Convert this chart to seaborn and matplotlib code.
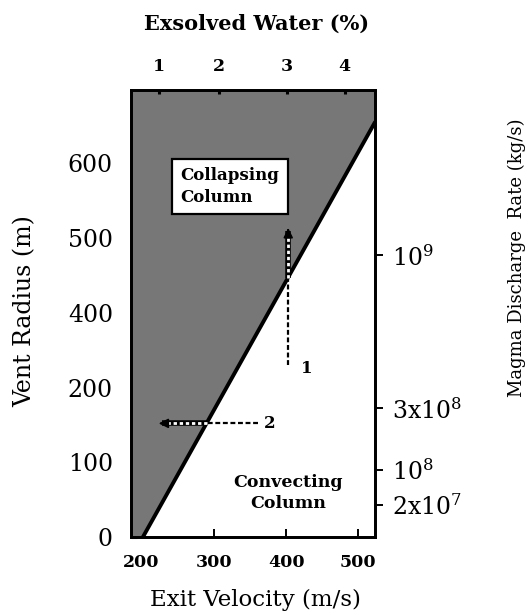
import matplotlib
matplotlib.use("Agg")
import matplotlib.pyplot as plt
import seaborn as sns
import numpy as np
import pandas as pd

# ---- data ----
boundary_velocity = [202, 523]          # m/s
boundary_radius = [0, 555]              # vent-radius axis units
x_ticks = [200, 300, 400, 500]
y_tick_pos = [0, 100, 200, 300, 400, 500]
y_tick_labels = ["0", "100", "200", "400", "500", "600"]
water_tick_pos = [224, 307, 401, 481]
water_tick_labels = ["1", "2", "3", "4"]
discharge_tick_pos = [377, 172, 90, 43]
discharge_tick_labels = [r"$10^9$", r"$3\mathrm{x}10^8$", r"$10^8$", r"$2\mathrm{x}10^7$"]
arrow1 = dict(x=[403, 403], y=[230, 417], cross=347)
arrow2 = dict(x=[361, 220], y=[152, 152], cross=290)
xlim = (185.5, 523)
ylim = (0, 598)

sns.set_theme(style="white")
plt.rcParams["font.family"] = ["DejaVu Serif", "DejaVu Sans"]
plt.rcParams["mathtext.fontset"] = "dejavuserif"
plt.rcParams["text.color"] = "black"
plt.rcParams["axes.edgecolor"] = "black"

fig = plt.figure(figsize=(5.29, 6.15), dpi=100)
ax = fig.add_axes([131 / 529, 1 - 537 / 615, (375 - 131) / 529, (537 - 90) / 615])
ax.set_xlim(*xlim)
ax.set_ylim(*ylim)

# shaded collapsing region (left of boundary)
bv = np.array(boundary_velocity, float)
br = np.array(boundary_radius, float)
poly_r = np.array([ylim[0], br[0], br[1], ylim[1]])
poly_v = np.array([bv[0], bv[0], bv[1], bv[1]])
ax.fill_betweenx(poly_r, xlim[0], poly_v, color="#777777", lw=0, zorder=1)

df = pd.DataFrame({"v": boundary_velocity, "r": boundary_radius})
sns.lineplot(data=df, x="v", y="r", ax=ax, color="black", lw=2.8, zorder=3,
             sort=False, estimator=None)

# arrow 1 (vertical)
ax.plot(arrow1["x"], [arrow1["y"][0], arrow1["cross"]], color="black", lw=1.6,
        ls=(0, (2.2, 1.2)), zorder=4)
ax.plot(arrow1["x"], [arrow1["cross"], arrow1["y"][1] - 8], color="black", lw=4.0, zorder=4,
        solid_capstyle="butt")
ax.plot(arrow1["x"], [arrow1["cross"], arrow1["y"][1] - 8], color="white", lw=2.0,
        ls=(0, (1.2, 1.0)), zorder=5)
ax.annotate("", xy=(arrow1["x"][1], arrow1["y"][1]), xytext=(arrow1["x"][1], arrow1["y"][1] - 12),
            arrowprops=dict(arrowstyle="-|>", color="black", lw=1.2, mutation_scale=14), zorder=6)
ax.text(arrow1["x"][0] + 26, arrow1["y"][0] - 4, "1", fontsize=12, fontweight="bold",
        ha="center", va="center", zorder=6)

# arrow 2 (horizontal)
ax.plot([arrow2["x"][0], arrow2["cross"]], arrow2["y"], color="black", lw=1.6,
        ls=(0, (2.2, 1.2)), zorder=4)
ax.plot([arrow2["cross"], arrow2["x"][1] + 8], arrow2["y"], color="black", lw=4.0, zorder=4,
        solid_capstyle="butt")
ax.plot([arrow2["cross"], arrow2["x"][1] + 8], arrow2["y"], color="white", lw=2.0,
        ls=(0, (1.2, 1.0)), zorder=5)
ax.annotate("", xy=(arrow2["x"][1], arrow2["y"][1]), xytext=(arrow2["x"][1] + 14, arrow2["y"][1]),
            arrowprops=dict(arrowstyle="-|>", color="black", lw=1.2, mutation_scale=14), zorder=6)
ax.text(arrow2["x"][0] + 16, arrow2["y"][0], "2", fontsize=12, fontweight="bold",
        ha="center", va="center", zorder=6)

# region labels
ax.text(254, 469, "Collapsing\nColumn", fontsize=12, fontweight="bold", ha="left",
        va="center", linespacing=1.35, zorder=7,
        bbox=dict(boxstyle="square,pad=0.5", facecolor="white", edgecolor="black", lw=1.6))
ax.text(403, 59, "Convecting\nColumn", fontsize=12.5, fontweight="bold", ha="center",
        va="center", linespacing=1.3, zorder=7)

# axes styling
for s in ax.spines.values():
    s.set_linewidth(1.8)
    s.set_color("black")
ax.set_xticks(x_ticks)
ax.set_xticklabels([str(t) for t in x_ticks], fontsize=12.5, fontweight="bold")
ax.set_yticks(y_tick_pos)
ax.set_yticklabels(y_tick_labels, fontsize=17)
ax.tick_params(axis="x", direction="in", length=6, width=1.4, pad=12, colors="black")
ax.tick_params(axis="y", direction="in", length=4, width=2.2, pad=13, colors="black")
ax.set_xlabel("")
ax.set_ylabel("")

# top axis: exsolved water
axt = ax.twiny()
axt.set_xlim(*xlim)
axt.set_xticks(water_tick_pos)
axt.set_xticklabels(water_tick_labels, fontsize=12.5, fontweight="bold")
axt.tick_params(axis="x", direction="in", length=3, width=2.2, pad=11, colors="black")
for s in axt.spines.values():
    s.set_linewidth(1.8)
    s.set_color("black")

# right axis: discharge rate
axr = ax.twinx()
axr.set_ylim(*ylim)
axr.set_yticks(discharge_tick_pos)
axr.set_yticklabels(discharge_tick_labels, fontsize=17)
axr.tick_params(axis="y", direction="out", length=6, width=1.4, pad=6, colors="black")
for s in axr.spines.values():
    s.set_linewidth(1.8)
    s.set_color("black")

fig.text(257 / 529, 1 - 24 / 615, "Exsolved Water (%)", fontsize=15, fontweight="bold",
         ha="center", va="center")
fig.text(255 / 529, 1 - 600 / 615, "Exit Velocity (m/s)", fontsize=16.5,
         ha="center", va="center")
fig.text(25 / 529, 1 - 311 / 615, "Vent Radius (m)", fontsize=17, rotation=90,
         ha="center", va="center")
fig.text(517 / 529, 1 - 258 / 615, "Magma Discharge  Rate (kg/s)", fontsize=13, rotation=90,
         ha="center", va="center")

fig.savefig("out.png", dpi=100, facecolor="white")
